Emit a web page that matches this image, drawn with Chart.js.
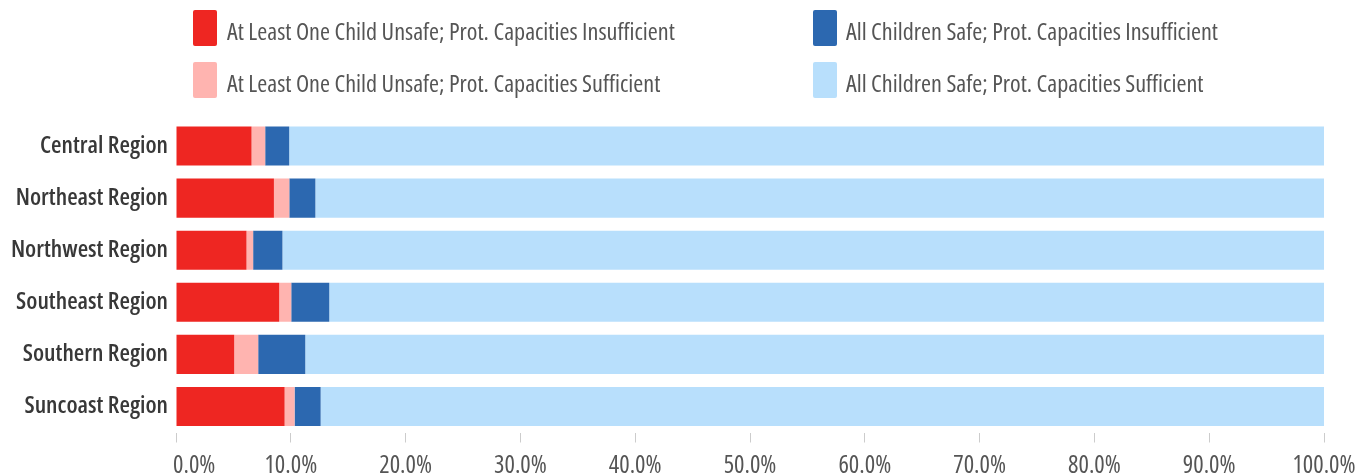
<!DOCTYPE html>
<html>
<head>
<meta charset="utf-8">
<script src="https://cdn.jsdelivr.net/npm/chart.js@4.4.1/dist/chart.umd.min.js"></script>
<style>
  html, body { margin: 0; padding: 0; background: #ffffff; }
  #wrap { width: 1356px; height: 476px; position: relative; }
</style>
</head>
<body>
<div id="wrap"><canvas id="c" width="1356" height="476"></canvas></div>
<script>
const categories = ['Central Region', 'Northeast Region', 'Northwest Region', 'Southeast Region', 'Southern Region', 'Suncoast Region'];
const seriesNames = [
  'At Least One Child Unsafe; Prot. Capacities Insufficient',
  'At Least One Child Unsafe; Prot. Capacities Sufficient',
  'All Children Safe; Prot. Capacities Insufficient',
  'All Children Safe; Prot. Capacities Sufficient'
];
const unsafeInsufficient = [6.58, 8.53, 6.14, 8.99, 5.07, 9.46];
const unsafeSufficient   = [1.19, 1.34, 0.58, 1.05, 2.09, 0.87];
const safeInsufficient   = [2.09, 2.27, 2.55, 3.31, 4.10, 2.27];
const safeSufficient     = [90.14, 87.86, 90.73, 86.65, 88.74, 87.40];
const tickValues = [0, 10, 20, 30, 40, 50, 60, 70, 80, 90, 100];

const colors = ['#EE2622', '#FFB4B0', '#2C68B0', '#B8DFFC'];
const FONT = "'Open Sans', 'Roboto', sans-serif";

const legendPlugin = {
  id: 'gridLegend',
  afterDraw(chart) {
    const ctx = chart.ctx;
    const cols = [{ box: 193, text: 227 }, { box: 813, text: 846 }];
    const rows = [10, 62];
    ctx.save();
    chart.data.datasets.forEach((ds, i) => {
      const col = cols[Math.floor(i / 2)];
      const top = rows[i % 2];
      ctx.fillStyle = ds.backgroundColor;
      ctx.beginPath();
      if (ctx.roundRect) ctx.roundRect(col.box, top, 24, 36, 2); else ctx.rect(col.box, top, 24, 36);
      ctx.fill();
      ctx.fillStyle = '#555555';
      ctx.font = 'condensed 24.2px ' + FONT;
      ctx.textBaseline = 'middle';
      ctx.textAlign = 'left';
      ctx.fillText(ds.label, col.text, top + 23.5);
    });
    ctx.restore();
  }
};

const datasets = [unsafeInsufficient, unsafeSufficient, safeInsufficient, safeSufficient].map((arr, i) => ({
  label: seriesNames[i],
  data: arr,
  backgroundColor: colors[i],
  borderWidth: 0,
  categoryPercentage: 1.0,
  barPercentage: 0.75
}));

new Chart(document.getElementById('c'), {
  type: 'bar',
  data: { labels: categories, datasets },
  options: {
    indexAxis: 'y',
    responsive: false,
    animation: false,
    layout: { padding: { top: 120, left: 0, right: 0, bottom: 0 } },
    plugins: {
      legend: { display: false },
      tooltip: { enabled: false }
    },
    scales: {
      x: {
        stacked: true,
        min: 0,
        max: 100,
        afterBuildTicks(scale) { scale.ticks = tickValues.map(v => ({ value: v })); },
        afterFit(scale) { scale.height = 43.5; scale.paddingRight = 32; scale.paddingLeft = 0; },
        border: { display: false },
        grid: { display: true, drawOnChartArea: false, drawTicks: true, tickLength: 10, color: '#cccccc', lineWidth: 1 },
        ticks: {
          color: '#555555',
          font: { family: FONT, size: 24.5, weight: 'condensed' },
          padding: 9,
          maxRotation: 0,
          autoSkip: false,
          callback: (v) => (v === 0 ? '        ' : '') + Number(v).toFixed(1) + '%'
        }
      },
      y: {
        stacked: true,
        border: { display: false },
        grid: { display: false, drawTicks: false },
        afterFit(scale) { scale.width = 176; },
        ticks: {
          color: '#383838',
          font: { family: FONT, size: 24, weight: '600 condensed' },
          padding: 8
        }
      }
    }
  },
  plugins: [legendPlugin]
});
</script>
</body>
</html>
